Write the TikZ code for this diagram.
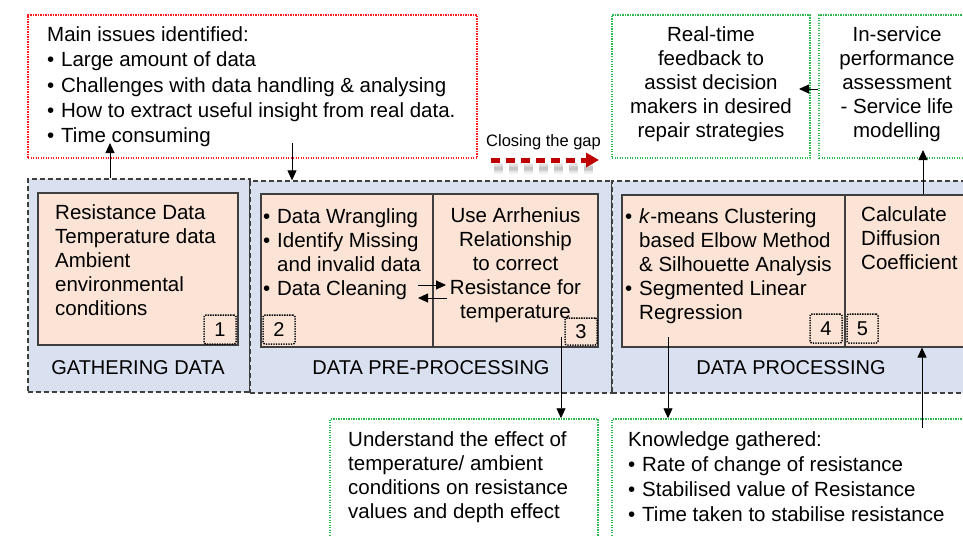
\documentclass[tikz,border=0pt]{standalone}
\usepackage{fontspec}
\setmainfont{Liberation Sans}
\usetikzlibrary{arrows.meta}

\definecolor{stagefill}{HTML}{D9E0EF}
\definecolor{taskfill}{HTML}{FBE3D5}
\definecolor{issuered}{HTML}{FF1A1A}
\definecolor{outgreen}{HTML}{2DB84D}
\definecolor{gapred}{HTML}{C00000}
\definecolor{edgegray}{HTML}{3F3F3F}

% bullet and hanging indent used in the lists
\newcommand{\itm}{\makebox[14pt][l]{\textbullet}}
\newcommand{\ind}{\hspace*{14pt}}

\tikzset{
  stage/.style={rectangle, draw=edgegray, line width=1.3pt,
    dash pattern=on 5pt off 3pt, fill=stagefill, inner sep=0pt},
  task/.style={rectangle, draw=edgegray, line width=1.1pt,
    fill=taskfill, inner sep=0pt},
  numbox/.style={rectangle, draw=black, line width=1.5pt,
    dash pattern=on 1.3pt off 1.2pt, rounded corners=2pt,
    minimum width=32pt, minimum height=29pt, inner sep=0pt,
    font=\fontsize{20}{20}\selectfont},
  issuebox/.style={rectangle, draw=issuered, line width=1.5pt,
    dash pattern=on 1.4pt off 1.1pt, inner sep=0pt},
  outbox/.style={rectangle, draw=outgreen, line width=1.5pt,
    dash pattern=on 1.4pt off 1.1pt, inner sep=0pt},
  txt/.style={inner sep=0pt, anchor=base west,
    font=\fontsize{20.5}{24}\selectfont},
  ctxt/.style={inner sep=0pt, anchor=base,
    font=\fontsize{20.5}{24}\selectfont},
  stagelabel/.style={inner sep=0pt, anchor=base,
    font=\fontsize{20}{20}\selectfont},
  arr/.style={draw=black, line width=0.9pt,
    -{Triangle[length=10pt,width=9pt]}},
  gapshadow/.style={black, dash pattern=on 9pt off 6pt},
}

\begin{document}
\begin{tikzpicture}[x=1pt, y=-1pt]
\useasboundingbox (0,0) rectangle (963,536);
\clip (0,0) rectangle (963,536);
\fill[white] (0,0) rectangle (963,536);

% the three stages
\node[stage, minimum width=222pt, minimum height=213pt] (gather) at (139,285.5) {};
\node[stage, minimum width=362pt, minimum height=212pt] (prep) at (431,287) {};
\node[stage, minimum width=363pt, minimum height=212pt] (proc) at (793.5,287) {};

\node[stagelabel] (gatherLbl) at (138,374) {GATHERING DATA};
\node[stagelabel] (prepLbl) at (431,374) {DATA PRE-PROCESSING};
\node[stagelabel] (procLbl) at (791,374) {DATA PROCESSING};

% task boxes
\node[task, minimum width=200pt, minimum height=152pt] (collect) at (138,269) {};
\node[task, minimum width=172pt, minimum height=153pt] (wrangle) at (347,270.5) {};
\node[task, minimum width=165pt, minimum height=153pt] (arrhenius) at (515.5,270.5) {};
\node[task, minimum width=223pt, minimum height=152pt] (cluster) at (733.5,271) {};
\node[task, minimum width=130pt, minimum height=152pt] (diffusion) at (910,271) {};

\node[txt] (collectTxt) at (55,219.3) {\parbox[t]{180pt}{\raggedright
  Resistance Data\\ Temperature data\\ Ambient\\ environmental\\ conditions}};
\node[txt] (wrangleTxt) at (263,223.3) {\parbox[t]{170pt}{\raggedright
  \itm Data Wrangling\\ \itm Identify Missing\\ \ind and invalid data\\ \itm Data Cleaning}};
\node[ctxt] (arrTxt) at (515.5,222) {\parbox[t]{165pt}{\centering
  Use Arrhenius\\ Relationship\\ to correct\\ Resistance for\\ temperature}};
\node[txt] (clusterTxt) at (625,223.3) {\parbox[t]{220pt}{\raggedright
  \itm\textit{k}-means Clustering\\ \ind based Elbow Method\\ \ind\& Silhouette Analysis\\
  \itm Segmented Linear\\ \ind Regression}};
\node[txt] (diffTxt) at (861,221.7) {\parbox[t]{110pt}{\raggedright
  Calculate\\ Diffusion\\ Coefficient}};

% step numbers
\node[numbox] (n1) at (220,329.5) {1};
\node[numbox] (n2) at (279,329.5) {2};
\node[numbox, minimum height=27pt] (n3) at (581,331.5) {3};
\node[numbox] (n4) at (826,328.5) {4};
\node[numbox, minimum width=31pt] (n5) at (862.5,328.5) {5};

% issues and outcomes
\node[issuebox, minimum width=449pt, minimum height=143pt] (issues) at (252.5,86.5) {};
\node[txt, font=\fontsize{20.5}{25.2}\selectfont] (issuesTxt) at (47,41.7) {\parbox[t]{430pt}{\raggedright
  Main issues identified:\\ \itm Large amount of data\\ \itm Challenges with data handling \& analysing\\
  \itm How to extract useful insight from real data.\\ \itm Time consuming}};

\node[outbox, minimum width=198pt, minimum height=143pt] (feedback) at (711,86.5) {};
\node[ctxt] (feedbackTxt) at (711,41.7) {\parbox[t]{198pt}{\centering
  Real-time\\ feedback to\\ assist decision\\ makers in desired\\ repair strategies}};

\node[outbox, minimum width=156pt, minimum height=143pt] (service) at (897,86.5) {};
\node[ctxt] (serviceTxt) at (897,41.7) {\parbox[t]{156pt}{\centering
  In-service\\ performance\\ assessment\\ - Service life\\ modelling}};

\node[outbox, minimum width=268pt, minimum height=126pt] (effect) at (464,482) {};
\node[txt] (effectTxt) at (348,446.7) {\parbox[t]{250pt}{\raggedright
  Understand the effect of\\ temperature/ ambient\\ conditions on resistance\\ values and depth effect}};

\node[outbox, minimum width=363pt, minimum height=126pt] (knowledge) at (793.5,482) {};
\node[txt, font=\fontsize{20.5}{25}\selectfont] (knowledgeTxt) at (628,446.7) {\parbox[t]{330pt}{\raggedright
  Knowledge gathered:\\ \itm Rate of change of resistance\\ \itm Stabilised value of Resistance\\
  \itm Time taken to stabilise resistance}};

% closing the gap, with a soft drop shadow under the dashed arrow
\node[inner sep=0pt, anchor=base west, font=\fontsize{16.5}{16.5}\selectfont] (gapTxt) at (486,146.7) {Closing the gap};
\coordinate (gapA) at (491,160);
\coordinate (gapB) at (599,160);
\foreach \w in {11,8,5,3}
  \draw[gapshadow, opacity=0.06, line width=\w pt] ([shift={(3,8)}]gapA) -- ([shift={(-4,8)}]gapB);
\draw[gapred, line width=5pt, dash pattern=on 9pt off 6pt,
  -{Triangle[length=13pt,width=14pt]}] (gapA) -- (gapB);

% connectors
\coordinate (issuesIn) at (110,143);
\coordinate (issuesOut) at (292,143);
\draw[arr] (110,0 |- gather.north) -- (issuesIn);
\draw[arr] (issuesOut) -- (292,0 |- prep.north);

\coordinate (wrA) at (418,285);
\coordinate (wrB) at (446,285);
\coordinate (arA) at (447,298);
\coordinate (arB) at (418,298);
\draw[arr] (wrA) -- (wrB);
\draw[arr] (arA) -- (arB);

\coordinate (arrOut) at (561,337);
\draw[arr] (arrOut) -- (561,0 |- effect.north);
\coordinate (clusterOut) at (668,337);
\draw[arr] (clusterOut) -- (668,0 |- knowledge.north);

\coordinate (knowledgeOut) at (922,428);
\draw[arr] (knowledgeOut) -- (922,0 |- diffusion.south);
\coordinate (serviceIn) at (923,150);
\draw[arr] (923,0 |- diffusion.north) -- (serviceIn);
\coordinate (feedbackIn) at (799,89);
\draw[arr] (service.west |- 0,89) -- (feedbackIn);
\end{tikzpicture}
\end{document}
